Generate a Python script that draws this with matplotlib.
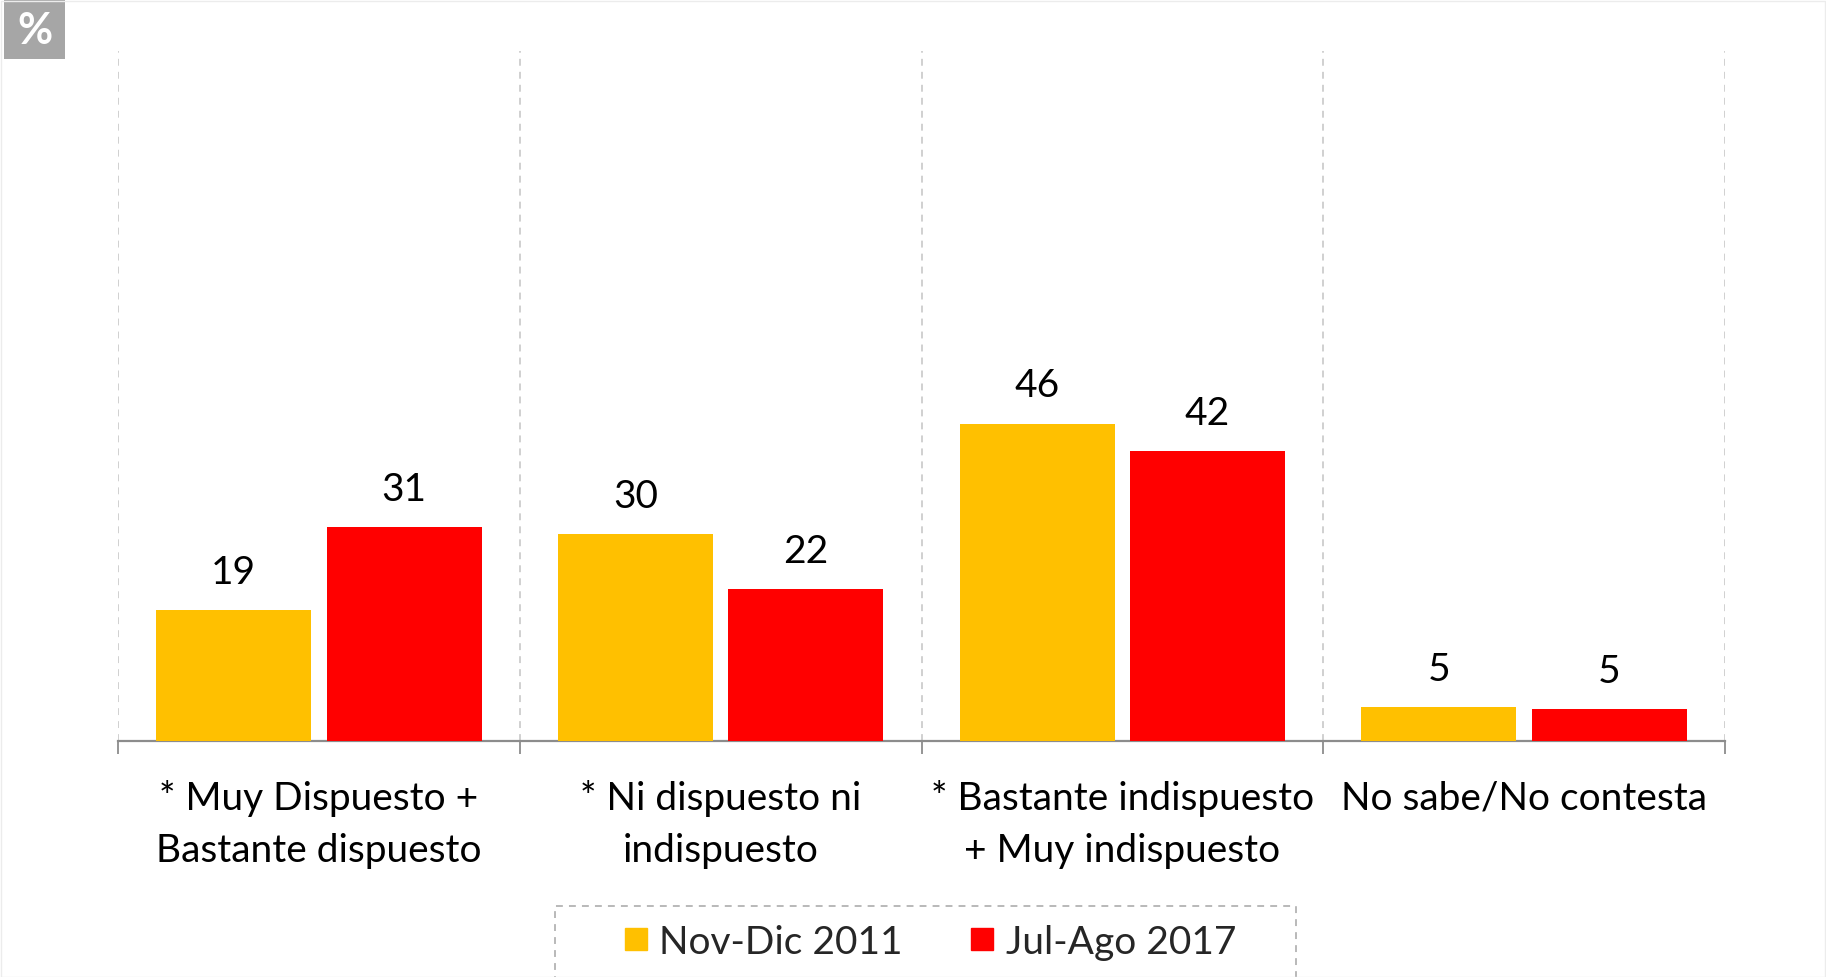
import matplotlib.pyplot as plt
from matplotlib.lines import Line2D
from matplotlib.patches import Rectangle

categories = ['* Muy Dispuesto +\nBastante dispuesto',
              '* Ni dispuesto ni\nindispuesto',
              '* Bastante indispuesto\n+ Muy indispuesto',
              'No sabe/No contesta']
series_names = ['Nov-Dic 2011', 'Jul-Ago 2017']
nov_dic_2011 = [19, 30, 46, 4.9]
jul_ago_2017 = [31, 22, 42, 4.6]

colors = ['#FFC000', '#FF0000']
grid_color = '#c3c3c3'
axis_color = '#8c8c8c'

plt.rcParams['font.family'] = ['Lato', 'DejaVu Sans']
FS = 28

W, H = 1826, 978
fig = plt.figure(figsize=(W / 100, H / 100), dpi=100)
ax = fig.add_axes([118 / W, 1 - 742 / H, (1725 - 118) / W, (742 - 52) / H])

x = list(range(len(categories)))
width = 0.386
offset = 0.212
for vals, col, sgn in [(nov_dic_2011, colors[0], -1), (jul_ago_2017, colors[1], 1)]:
    xs = [i + sgn * offset for i in x]
    bars = ax.bar(xs, vals, width=width, color=col, zorder=3)
    for b, v in zip(bars, vals):
        ax.annotate(f'{v:.0f}', (b.get_x() + b.get_width() / 2, v),
                    xytext=(0, 27.5), textcoords='offset points',
                    ha='center', va='center', fontsize=FS, color='black')

ax.set_xlim(-0.5, len(categories) - 0.5)
ax.set_ylim(0, 100)

# dashed separators between groups
bounds = [i - 0.5 for i in range(len(categories) + 1)]
for bx in bounds:
    ax.axvline(bx, color=grid_color, lw=1.1, linestyle=(0, (4.5, 4)), zorder=1)

for s in ['top', 'left', 'right']:
    ax.spines[s].set_visible(False)
ax.spines['bottom'].set_color(axis_color)
ax.spines['bottom'].set_linewidth(1.6)
ax.set_yticks([])
ax.set_xticks(bounds)
ax.set_xticklabels([])
ax.tick_params(axis='x', length=9.5, width=1.3, color=axis_color, direction='out')

for i, lab in enumerate(categories):
    if '\n' not in lab:
        lab = lab + '\n'
    ax.text(i, -0.1196, lab, transform=ax.get_xaxis_transform(),
            ha='center', va='center', multialignment='center',
            fontsize=FS, linespacing=1.57, color='black')

# legend with dashed frame
handles = [Line2D([], [], marker='s', linestyle='none', markersize=16,
                  markerfacecolor=c, markeredgecolor=c) for c in colors]
fig.legend(handles, series_names, loc='center', bbox_to_anchor=(930 / W, 1 - 943 / H),
           ncol=2, frameon=False, fontsize=FS, handlelength=0.6,
           handletextpad=0.3, columnspacing=1.75, labelcolor='#262626')
fig.patches.append(Rectangle((555 / W, -0.05), (1296 - 555) / W, 0.05 + 1 - 907 / H,
                             transform=fig.transFigure, fill=False,
                             edgecolor='#a6a6a6', lw=1.1, linestyle=(0, (4.5, 4))))

# "%" badge
fig.patches.append(Rectangle((4 / W, 1 - 60 / H), 61 / W, 59 / H,
                             transform=fig.transFigure, facecolor='#a6a6a6',
                             edgecolor='none'))
fig.text(34.5 / W, 1 - 30.5 / H, '%', ha='center', va='center', color='white',
         fontsize=31, fontweight='bold')

# faint outer frame
fig.patches.append(Rectangle((0.5 / W, 0.5 / H), 1 - 1.5 / W, 1 - 2 / H,
                             transform=fig.transFigure, fill=False,
                             edgecolor='#ececec', lw=1))

fig.savefig('out.png', dpi=100)
